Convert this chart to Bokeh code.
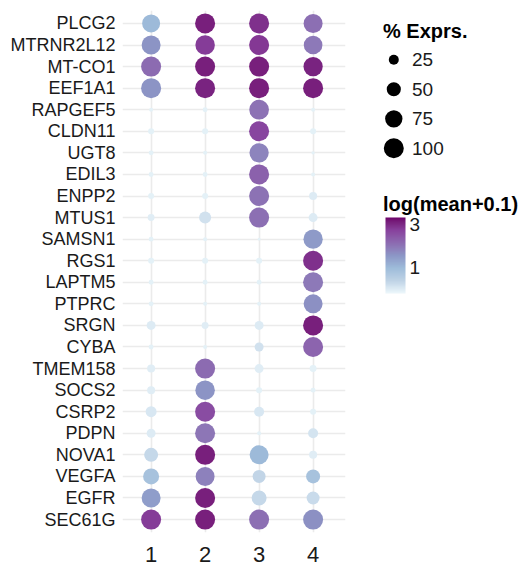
import numpy as np
from bokeh.plotting import figure
from bokeh.layouts import row
from bokeh.models import (Range1d, FixedTicker, LinearColorMapper, ColorBar, ColumnDataSource)
from bokeh.core.properties import value
from bokeh.embed import file_html
from bokeh.resources import INLINE

genes = ["PLCG2", "MTRNR2L12", "MT-CO1", "EEF1A1", "RAPGEF5", "CLDN11", "UGT8", "EDIL3",
         "ENPP2", "MTUS1", "SAMSN1", "RGS1", "LAPTM5", "PTPRC", "SRGN", "CYBA",
         "TMEM158", "SOCS2", "CSRP2", "PDPN", "NOVA1", "VEGFA", "EGFR", "SEC61G"]
clusters = ["1", "2", "3", "4"]

# percent of cells expressing, per cluster (rows follow genes)
pct_1 = [81, 90, 100, 100, 4, 9, 6, 6, 9, 12, 6, 9, 6, 6, 20, 6, 16, 16, 30, 20, 49, 64, 90, 100]
pct_2 = [100, 95, 100, 100, 6, 9, 4, 6, 9, 36, 4, 9, 6, 4, 12, 4, 100, 95, 100, 100, 100, 90, 100, 100]
pct_3 = [100, 100, 100, 100, 97, 100, 93, 100, 100, 100, 2, 9, 6, 4, 20, 20, 20, 9, 25, 4, 90, 42, 56, 100]
pct_4 = [90, 87, 93, 100, 4, 9, 3, 4, 16, 20, 93, 100, 100, 90, 100, 100, 12, 6, 9, 25, 16, 49, 42, 100]

# log(mean + 0.1) per cluster
expr_1 = [1.0, 1.6, 2.15, 1.6, -0.1, -0.1, -0.1, -0.1, -0.1, -0.05, -0.1, -0.1, -0.1, -0.1, 0.0, -0.1,
          -0.05, -0.05, 0.05, 0.0, 0.3, 0.8, 1.45, 2.8]
expr_2 = [3.12, 2.8, 3.12, 3.08, -0.1, -0.1, -0.1, -0.1, -0.1, 0.15, -0.1, -0.1, -0.1, -0.1, -0.05, -0.1,
          2.15, 1.6, 2.6, 2.0, 3.12, 1.85, 3.12, 3.12]
expr_3 = [2.95, 2.85, 3.12, 3.12, 2.05, 2.7, 1.8, 2.3, 2.05, 2.1, -0.1, -0.1, -0.1, -0.1, 0.0, 0.15,
          -0.05, -0.1, 0.05, -0.1, 1.0, 0.35, 0.3, 2.1]
expr_4 = [2.1, 1.95, 3.08, 3.12, -0.1, -0.1, -0.1, -0.1, 0.0, 0.0, 1.5, 2.95, 1.95, 1.65, 3.12, 2.25,
          -0.1, -0.1, -0.1, 0.1, -0.05, 0.8, 0.25, 1.65]

size_breaks = [25, 50, 75, 100]
color_ticks = [1, 3]
color_low, color_high = -0.22, 3.34

bupu7 = ["#edf8fb", "#bfd3e6", "#9ebcda", "#8c96c6", "#8c6bb1", "#88419d", "#6e016b"]


def _srgb_to_lin(c):
    c = c / 255.0
    return np.where(c <= 0.04045, c / 12.92, ((c + 0.055) / 1.055) ** 2.4)


def _lin_to_srgb(c):
    c = np.clip(c, 0, 1)
    v = np.where(c <= 0.0031308, 12.92 * c, 1.055 * c ** (1 / 2.4) - 0.055)
    return np.clip(np.round(v * 255), 0, 255).astype(int)


M = np.array([[0.4124564, 0.3575761, 0.1804375],
              [0.2126729, 0.7151522, 0.0721750],
              [0.0193339, 0.1191920, 0.9503041]])
Minv = np.linalg.inv(M)
WHITE = np.array([0.95047, 1.0, 1.08883])


def _f(t):
    d = 6 / 29
    return np.where(t > d ** 3, np.cbrt(t), t / (3 * d * d) + 4 / 29)


def _finv(t):
    d = 6 / 29
    return np.where(t > d, t ** 3, 3 * d * d * (t - 4 / 29))


def hex_to_lab(h):
    rgb = np.array([int(h[i:i + 2], 16) for i in (1, 3, 5)], dtype=float)
    xyz = M @ _srgb_to_lin(rgb) / WHITE
    fx, fy, fz = _f(xyz)
    return np.array([116 * fy - 16, 500 * (fx - fy), 200 * (fy - fz)])


def lab_to_hex(lab):
    L_, a, b = lab
    fy = (L_ + 16) / 116
    fx = fy + a / 500
    fz = fy - b / 200
    xyz = np.array([_finv(fx), _finv(fy), _finv(fz)]) * WHITE
    rgb = _lin_to_srgb(Minv @ xyz)
    return "#%02x%02x%02x" % tuple(rgb)


def interp_palette(cols, n=256):
    labs = np.array([hex_to_lab(c) for c in cols])
    pos = np.linspace(0, 1, len(cols))
    out = []
    for tt in np.linspace(0, 1, n):
        lab = [np.interp(tt, pos, labs[:, k]) for k in range(3)]
        out.append(lab_to_hex(lab))
    return out


palette = interp_palette(bupu7)
mapper = LinearColorMapper(palette=palette, low=color_low, high=color_high)

MAX_D = 20.0


def dot_size(p):
    return MAX_D * np.sqrt(np.asarray(p, dtype=float) / 100.0)


pcts = [pct_1, pct_2, pct_3, pct_4]
exprs = [expr_1, expr_2, expr_3, expr_4]
xs, ys, ps, es = [], [], [], []
for ci, c in enumerate(clusters):
    for gi, g in enumerate(genes):
        xs.append(ci + 1)
        ys.append(gi + 1)
        ps.append(pcts[ci][gi])
        es.append(exprs[ci][gi])
src = ColumnDataSource(dict(x=xs, y=ys, pct=ps, expr=es, size=dot_size(ps)))

FONT = "Liberation Sans"
TXT = "#1a1a1a"
TOP, BOTTOM = 10, 37
H = 569

p = figure(width=360, height=H, output_backend="svg", toolbar_location=None,
           x_range=Range1d(0.47, 4.6), y_range=Range1d(len(genes) + 0.6, 0.4),
           min_border_left=122, min_border_right=15, min_border_top=TOP, min_border_bottom=BOTTOM)
p.outline_line_color = None
p.background_fill_color = "white"

p.scatter(x="x", y="y", size="size", source=src,
          fill_color={"field": "expr", "transform": mapper}, line_color=None)

p.xaxis.ticker = FixedTicker(ticks=list(range(1, len(clusters) + 1)))
p.xaxis.major_label_overrides = {i + 1: c for i, c in enumerate(clusters)}
p.yaxis.ticker = FixedTicker(ticks=list(range(1, len(genes) + 1)))
p.yaxis.major_label_overrides = {i + 1: g for i, g in enumerate(genes)}
for ax in (p.xaxis, p.yaxis):
    ax.axis_line_color = None
    ax.major_tick_line_color = None
    ax.minor_tick_line_color = None
    ax.major_label_text_font = FONT
    ax.major_label_text_color = TXT
p.yaxis.major_label_text_font_size = "18px"
p.yaxis.major_label_standoff = 1
p.xaxis.major_label_text_font_size = "22px"
p.xaxis.major_label_standoff = 8
p.xgrid.ticker = FixedTicker(ticks=list(range(1, len(clusters) + 1)))
p.ygrid.ticker = FixedTicker(ticks=list(range(1, len(genes) + 1)))
for gr in (p.xgrid, p.ygrid):
    gr.grid_line_color = "#ebebeb"
    gr.grid_line_width = 1.6

# legend panel: data coordinates equal page pixels (relative to this panel)
L = figure(width=166, height=H, output_backend="svg", toolbar_location=None,
           x_range=Range1d(0, 166), y_range=Range1d(H - BOTTOM, TOP),
           min_border_left=0, min_border_right=0, min_border_top=TOP, min_border_bottom=BOTTOM)
L.axis.visible = False
L.grid.visible = False
L.outline_line_color = None

L.text(x=[22.5], y=[30.5], text=["% Exprs."], text_font=value(FONT), text_font_size="20px",
       text_font_style="bold", text_color="black", text_baseline="alphabetic")
leg_y = [59.3 + 29.5 * i for i in range(len(size_breaks))]
L.scatter(x=[33.3] * len(size_breaks), y=leg_y, size=dot_size(size_breaks),
          fill_color="black", line_color=None)
L.text(x=[51.5] * len(size_breaks), y=leg_y, text=[str(s) for s in size_breaks],
       text_font=value(FONT), text_font_size="19px", text_color=TXT, text_baseline="middle")

L.text(x=[22.5], y=[203], text=["log(mean+0.1)"], text_font=value(FONT), text_font_size="20px",
       text_font_style="bold", text_color="black", text_baseline="alphabetic")

cb = ColorBar(color_mapper=mapper, ticker=FixedTicker(ticks=color_ticks),
              width=20, height=76, location=(25, 239), padding=0,
              major_label_text_font=FONT, major_label_text_font_size="19px",
              major_label_text_color=TXT, label_standoff=4,
              major_tick_line_color=None, minor_tick_line_color=None, bar_line_color=None,
              border_line_color=None, background_fill_alpha=0)
L.add_layout(cb, "center")

layout = row(p, L)
open("out.html", "w").write(file_html(layout, INLINE))
